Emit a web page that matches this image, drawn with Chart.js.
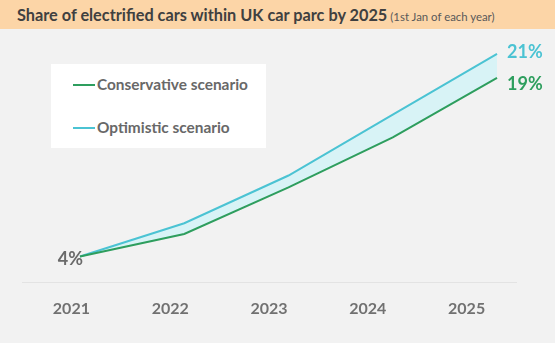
<!DOCTYPE html>
<html>
<head>
<meta charset="utf-8">
<script src="https://cdn.jsdelivr.net/npm/chart.js@4.4.1/dist/chart.umd.min.js"></script>
<style>
	html, body { margin: 0; padding: 0; }
	body { width: 555px; height: 343px; background: #f2f2f2; position: relative; overflow: hidden; font-family: Lato, "Open Sans", sans-serif; }
	.title-band { position: absolute; left: 0; top: 0; width: 555px; height: 29px; background: #fcd5a7; }
	.title-band span.main { position: absolute; left: 17px; top: 5px; font-size: 16.3px; font-weight: 700; color: #404040; white-space: nowrap; }
	.title-band span.sub { font-size: 11.4px; font-weight: 400; color: #595959; margin-left: 3px; }
	#chart-wrap { position: absolute; left: 0; top: 0; width: 555px; height: 343px; }
	.legend-box { position: absolute; left: 51px; top: 64px; width: 215px; height: 84px; background: #ffffff; }
	.legend-item { position: absolute; left: 22px; height: 20px; line-height: 20px; font-size: 15.4px; font-weight: 700; color: #686868; white-space: nowrap; }
	.legend-item i { display: inline-block; width: 22px; height: 2px; vertical-align: middle; margin-right: 2px; position: relative; top: -1px; }
</style>
</head>
<body>
<div class="title-band"><span class="main">Share of electrified cars within UK car parc by 2025<span class="sub">(1st Jan of each year)</span></span></div>
<div id="chart-wrap"><canvas id="parcChart" width="555" height="343"></canvas></div>
<div class="legend-box" id="legend"></div>
<script>
(() => {
	'use strict'

	// Years on the axis and the two scenario series (share in %)
	const years = ['2021', '2022', '2023', '2024', '2025'];
	const conservative = [4, 5.9, 9.8, 14.0, 19];
	const optimistic = [4, 6.8, 10.8, 15.9, 21];

	const greenColor = '#2e9e5e';
	const cyanColor = '#4bc3d3';
	const bandColor = 'rgba(214, 242, 246, 0.95)';
	const labelColor = '#6a6a6a';

	const toPoints = (values) => values.map((v, i) => ({ x: Number(years[i]), y: v }));

	// Percentage labels at the start and end of the lines
	const endLabels = {
		id: 'endLabels',
		afterDatasetsDraw(chart) {
			const ctx = chart.ctx;
			ctx.save();
			ctx.font = '700 18px Lato, "Open Sans", sans-serif';
			ctx.textBaseline = 'middle';

			// shared starting value, left of the first point
			const first = chart.getDatasetMeta(0).data[0];
			ctx.fillStyle = labelColor;
			ctx.textAlign = 'right';
			ctx.fillText(conservative[0] + '%', first.x + 3, first.y + 3);

			// final values, right of the last points
			ctx.textAlign = 'left';
			chart.data.datasets.forEach((ds, i) => {
				const meta = chart.getDatasetMeta(i);
				const last = meta.data[meta.data.length - 1];
				const value = ds.data[ds.data.length - 1].y;
				ctx.fillStyle = ds.borderColor;
				ctx.fillText(value + '%', last.x + 10, last.y + ds.labelShift);
			});
			ctx.restore();
		}
	};

	const ctx = document.getElementById('parcChart');
	const parcChart = new Chart(ctx, {
		type: 'line',
		data: {
			labels: years,
			datasets: [
				{
					label: 'Conservative scenario',
					data: toPoints(conservative),
					xAxisID: 'x2',
					borderColor: greenColor,
					borderWidth: 2,
					pointRadius: 0,
					tension: 0,
					fill: false,
					labelShift: 6
				},
				{
					label: 'Optimistic scenario',
					data: toPoints(optimistic),
					xAxisID: 'x2',
					borderColor: cyanColor,
					backgroundColor: bandColor,
					borderWidth: 2,
					pointRadius: 0,
					tension: 0,
					fill: '-1',
					labelShift: -2
				}
			]
		},
		options: {
			responsive: false,
			animation: false,
			layout: {
				padding: { left: 22, right: 39, top: 42, bottom: 9 }
			},
			plugins: {
				legend: { display: false },
				tooltip: { enabled: false },
				title: { display: false }
			},
			scales: {
				x: {
					type: 'category',
					offset: true,
					min: '2021',
					max: '2025',
					grid: { display: false, drawTicks: false },
					border: { display: true, color: '#e3e3e3', width: 1 },
					ticks: {
						color: '#717171',
						padding: 16,
						font: { family: 'Lato, "Open Sans", sans-serif', size: 16, weight: '700' }
					}
				},
				x2: {
					type: 'linear',
					display: false,
					min: 2020.444,
					max: 2025.182
				},
				y: {
					display: false,
					min: 1.8,
					max: 22
				}
			}
		},
		plugins: [endLabels]
	});

	// Legend box built from the dataset labels
	const legend = document.getElementById('legend');
	parcChart.data.datasets.forEach((ds, i) => {
		const item = document.createElement('div');
		item.className = 'legend-item';
		item.style.top = (10 + i * 43) + 'px';
		item.innerHTML = '<i style="background:' + ds.borderColor + '"></i>' + ds.label;
		legend.appendChild(item);
	});
})()
</script>
</body>
</html>
